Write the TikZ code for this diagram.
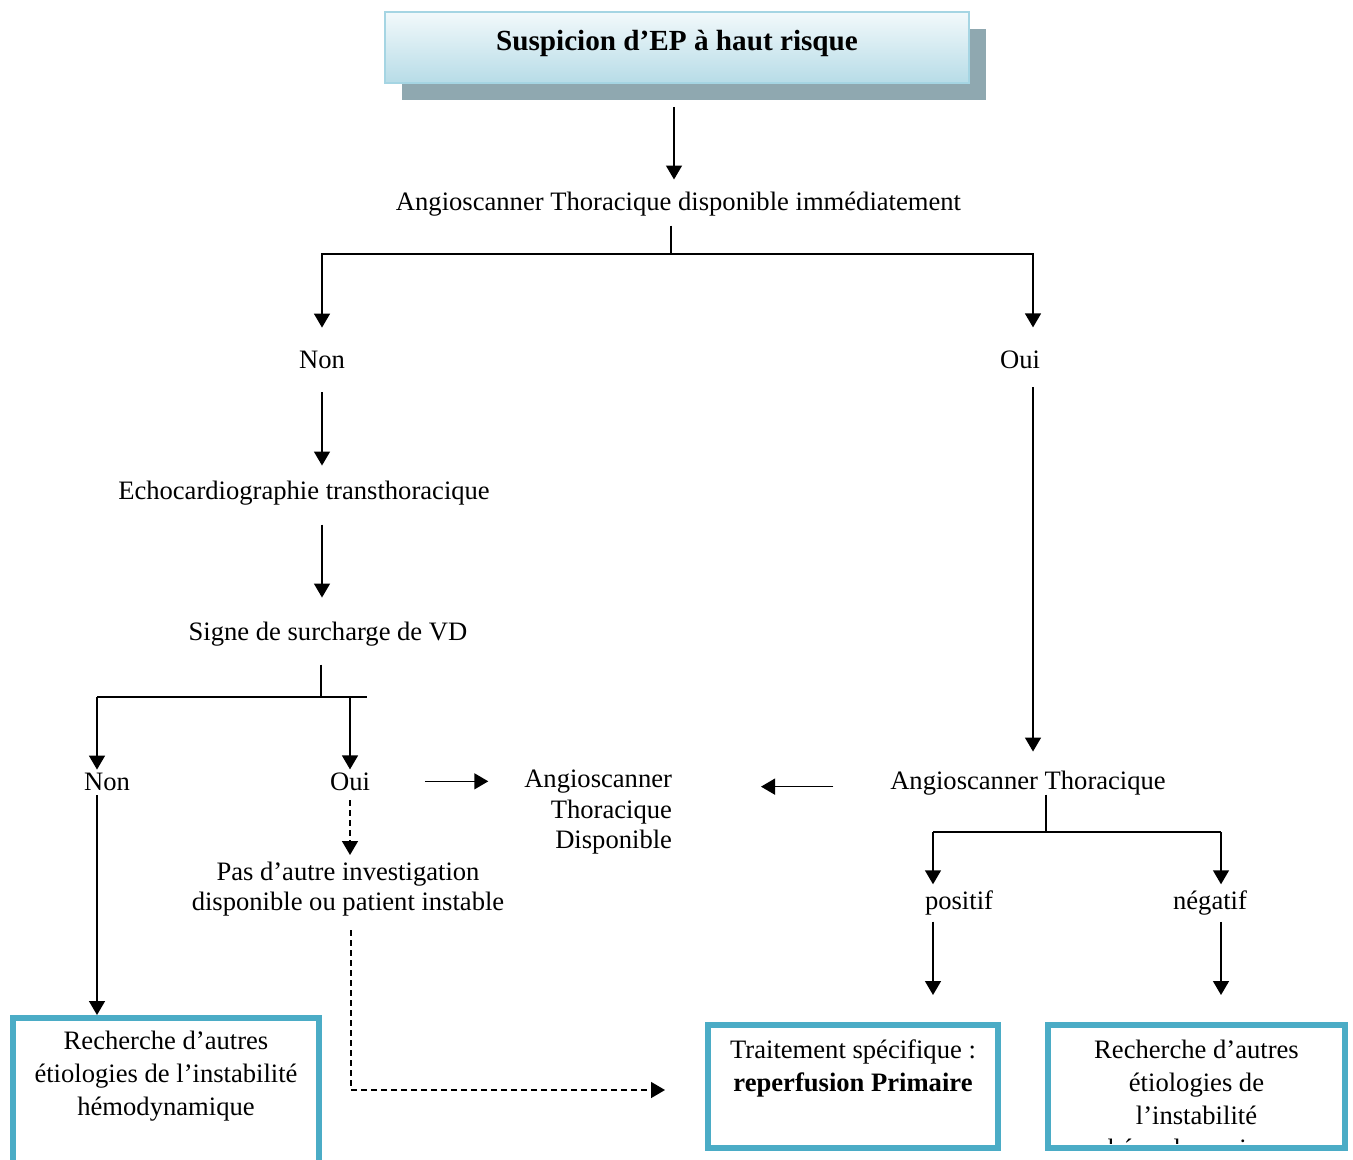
\documentclass[tikz,border=0pt]{standalone}
\usepackage{fontspec}
\setmainfont{Liberation Serif}
\usepackage{tikz}
\usetikzlibrary{arrows.meta}
\usetikzlibrary{shadows}
\usetikzlibrary{positioning}
\usepackage{xcolor}
\definecolor{tealline}{HTML}{4BACC6}
\definecolor{titleline}{HTML}{A5D5E3}
\definecolor{titletop}{HTML}{F2F9FB}
\definecolor{titlebottom}{HTML}{B7DCE7}
\definecolor{shadowgray}{HTML}{8FA8B0}

\begin{document}
\begin{tikzpicture}[x=0.5pt, y=-0.5pt,
    txt/.style={font=\fontsize{13.3}{16.5}\selectfont, inner sep=0pt, outer sep=0pt, anchor=base},
    arr/.style={-{Triangle[length=7pt,width=8pt]}, line width=0.75pt},
    line/.style={line width=0.75pt},
    darr/.style={arr, dash pattern=on 3pt off 2pt},
    tealbox/.style={draw=tealline, line width=3pt, minimum height=61.5pt, inner sep=0pt}]

    % 1. Page frame
    \clip (0,0) rectangle (1353,1160);

    % 2. Title box with its shadow
    \node[draw=titleline, line width=1pt, top color=titletop, bottom color=titlebottom,
        minimum width=292pt, minimum height=35.5pt, inner sep=0pt,
        drop shadow={shadow xshift=8.5pt, shadow yshift=-8.5pt, fill=shadowgray, opacity=1},
        font=\fontsize{14.6}{17}\selectfont\bfseries, text height=10pt, text depth=6.5pt]
        (title) at (677,47.5) {Suspicion d’EP à haut risque};

    % 3. Text of the steps
    \node[txt] (scan) at (678.5,211) {Angioscanner Thoracique disponible immédiatement};
    \node[txt] (non1) at (322,369) {Non};
    \node[txt] (oui1) at (1020,369) {Oui};
    \node[txt] (echo) at (304,499) {Echocardiographie transthoracique};
    \node[txt] (signe) at (328,640) {Signe de surcharge de VD};
    \node[txt] (non2) at (107,790) {Non};
    \node[txt] (oui2) at (350,790) {Oui};
    \node[txt, anchor=north east, align=right, font=\fontsize{13.3}{15.25}\selectfont]
        (dispo) at (672,770) {Angioscanner\\Thoracique\\Disponible};
    \node[txt, anchor=north, align=center, font=\fontsize{13.3}{15}\selectfont]
        (pas) at (348,862) {Pas d’autre investigation\\disponible ou patient instable};
    \node[txt] (scan2) at (1028,789) {Angioscanner Thoracique};
    \node[txt] (pos) at (959,909) {positif};
    \node[txt] (neg) at (1210,909) {négatif};

    % 4. Result boxes
    \node[tealbox, minimum width=153pt, minimum height=90pt, anchor=north] (boxL) at (166,1015) {};
    \node[tealbox, minimum width=145pt] (boxM) at (853,1086.5) {};
    \node[tealbox, minimum width=148.5pt] (boxR) at (1196.5,1086.5) {};
    \node[txt, anchor=north, align=center] (txtL) at (166,1031)
        {Recherche d’autres\\étiologies de l’instabilité\\hémodynamique};
    \node[txt, anchor=north, align=center] (txtM) at (853,1040)
        {Traitement spécifique :\\\textbf{reperfusion Primaire}};
    \begin{scope}
        \clip (1051,1028) rectangle (1342,1143);
        \node[txt, anchor=north, align=center] (txtR) at (1196.5,1040)
            {Recherche d’autres\\étiologies de\\l’instabilité\\hémodynamique};
    \end{scope}

    % 5. Branch points
    \coordinate (j1) at (671,254);
    \coordinate (j2) at (321,697);
    \coordinate (jL) at (97,697);
    \coordinate (jE) at (367,697);
    \coordinate (j3) at (1046,832);
    \coordinate (jP) at (933,832);
    \coordinate (jN) at (1221,832);
    \coordinate (dlow) at (351,1090);

    % 6. Connectors, top part
    \draw[arr, shorten <=11.5pt, shorten >=6.5pt] ([xshift=-1.5pt]title.south) -- ([xshift=-1.5pt]title.south |- scan.north);
    \draw[line, shorten <=4.5pt] (scan.south -| j1) -- (j1);
    \draw[arr, shorten >=12pt] (j1) -| (non1.north);
    \draw[arr, shorten >=12pt] (j1) -| ([xshift=6.5pt]oui1.north);

    % 7. Left branch
    \draw[arr, shorten <=11.5pt, shorten >=7.5pt] (non1.south) -- (non1.south |- echo.north);
    \draw[arr, shorten <=10pt, shorten >=12pt] (echo.south -| non1.south) -- (signe.north -| non1.south);
    \draw[line, shorten <=9.5pt] (signe.south -| j2) -- (j2);
    \draw[line] (jL) -- (jE);
    \draw[arr, shorten >=1.5pt] (jL) -- (jL |- non2.north);
    \draw[arr, shorten >=1.5pt] (oui2.north |- jL) -- (oui2.north);
    \draw[arr, shorten <=2.5pt] (jL |- non2.south) -- (jL |- boxL.north);
    \draw[arr, shorten <=27.5pt, shorten >=18pt] (oui2.east) -- (oui2.east -| dispo.west);
    \draw[darr, shorten <=5pt, shorten >=3.5pt] (oui2.south) -- (oui2.south |- pas.north);
    \draw[darr, shorten <=7pt, shorten >=20pt] (pas.south -| dlow) -- (dlow) -- (dlow -| boxM.west);

    % 8. Right branch
    \draw[arr, shorten <=9pt, shorten >=9.5pt] ([xshift=6.5pt]oui1.south) -- ([xshift=6.5pt]oui1.south |- scan2.north);
    \draw[arr, shorten <=28.5pt, shorten >=44.5pt] ([yshift=-2pt]scan2.west) -- ([yshift=-2pt]scan2.west -| dispo.east);
    \draw[line] (scan2.south -| j3) -- (j3);
    \draw[line] (jP) -- (jN);
    \draw[arr, shorten >=3pt] (jP) -- (jP |- pos.north);
    \draw[arr, shorten >=3pt] (jN) -- (jN |- neg.north);
    \draw[arr, shorten <=3.5pt, shorten >=13.5pt] (jP |- pos.south) -- (jP |- boxM.north);
    \draw[arr, shorten <=3.5pt, shorten >=13.5pt] (jN |- neg.south) -- (jN |- boxR.north);

\end{tikzpicture}
\end{document}
